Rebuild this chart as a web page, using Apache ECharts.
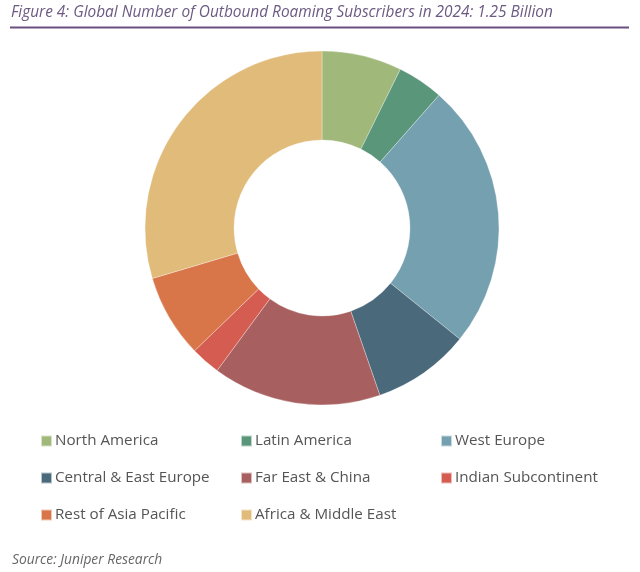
<!DOCTYPE html>
<html>
<head>
<meta charset="utf-8">
<script src="https://cdn.jsdelivr.net/npm/echarts@6/dist/echarts.min.js"></script>
<style>html,body{margin:0;padding:0;background:#fff;}#c{width:640px;height:572px;}</style>
</head>
<body>
<div id="c"></div>
<script>
const categories = ["North America","Latin America","West Europe","Central & East Europe","Far East & China","Indian Subcontinent","Rest of Asia Pacific","Africa & Middle East"];
const shares = [7.3, 4.2, 24.3, 8.9, 15.4, 2.7, 7.6, 29.6];
const colors = ["#a0b87a","#5a967a","#74a0b0","#4a6a7c","#a85f5f","#d45c50","#d8764a","#e0bb7a"];
const titleText = "Figure 4: Global Number of Outbound Roaming Subscribers in 2024: 1.25 Billion";
const sourceText = "Source: Juniper Research";

const chart = echarts.init(document.getElementById('c'), null, {renderer:'canvas'});
const legendCols = [[0,3,6],[1,4,7],[2,5]];
const legendLefts = [40, 240, 440];
const legends = legendCols.map((idx, i) => ({
  orient: 'vertical',
  left: legendLefts[i],
  top: 431,
  padding: 0,
  itemWidth: 11,
  itemHeight: 11,
  itemGap: 17,
  icon: 'rect',
  selectedMode: false,
  data: idx.map(k => categories[k]),
  textStyle: {fontFamily: '"Open Sans", sans-serif', fontSize: 15.2, color: '#555', lineHeight: 20, padding: [0,0,0,-2]}
}));
chart.setOption({
  animation: false,
  color: colors,
  title: [{
    text: titleText, left: 11, top: 5, padding: 0,
    textStyle: {fontFamily: '"Open Sans", sans-serif', fontStyle: 'italic', fontWeight: 'normal', fontSize: 15.4, color: '#6c5a82'}
  },{
    text: sourceText, left: 12, top: 553, padding: 0,
    textStyle: {fontFamily: '"Open Sans", sans-serif', fontStyle: 'italic', fontWeight: 'normal', fontSize: 13.8, color: '#666'}
  }],
  graphic: [{
    type: 'rect', shape: {x: 10, y: 26.5, width: 619, height: 2},
    style: {fill: '#6b4f7e'}
  }],
  legend: legends,
  series: [{
    type: 'pie',
    center: [322, 228],
    radius: [88, 177],
    startAngle: 90,
    clockwise: true,
    label: {show: false},
    labelLine: {show: false},
    emphasis: {disabled: true},
    itemStyle: {borderColor: 'rgba(255,255,255,0.6)', borderWidth: 0.5},
    data: categories.map((n, i) => ({name: n, value: shares[i]}))
  }]
});
</script>
</body>
</html>
